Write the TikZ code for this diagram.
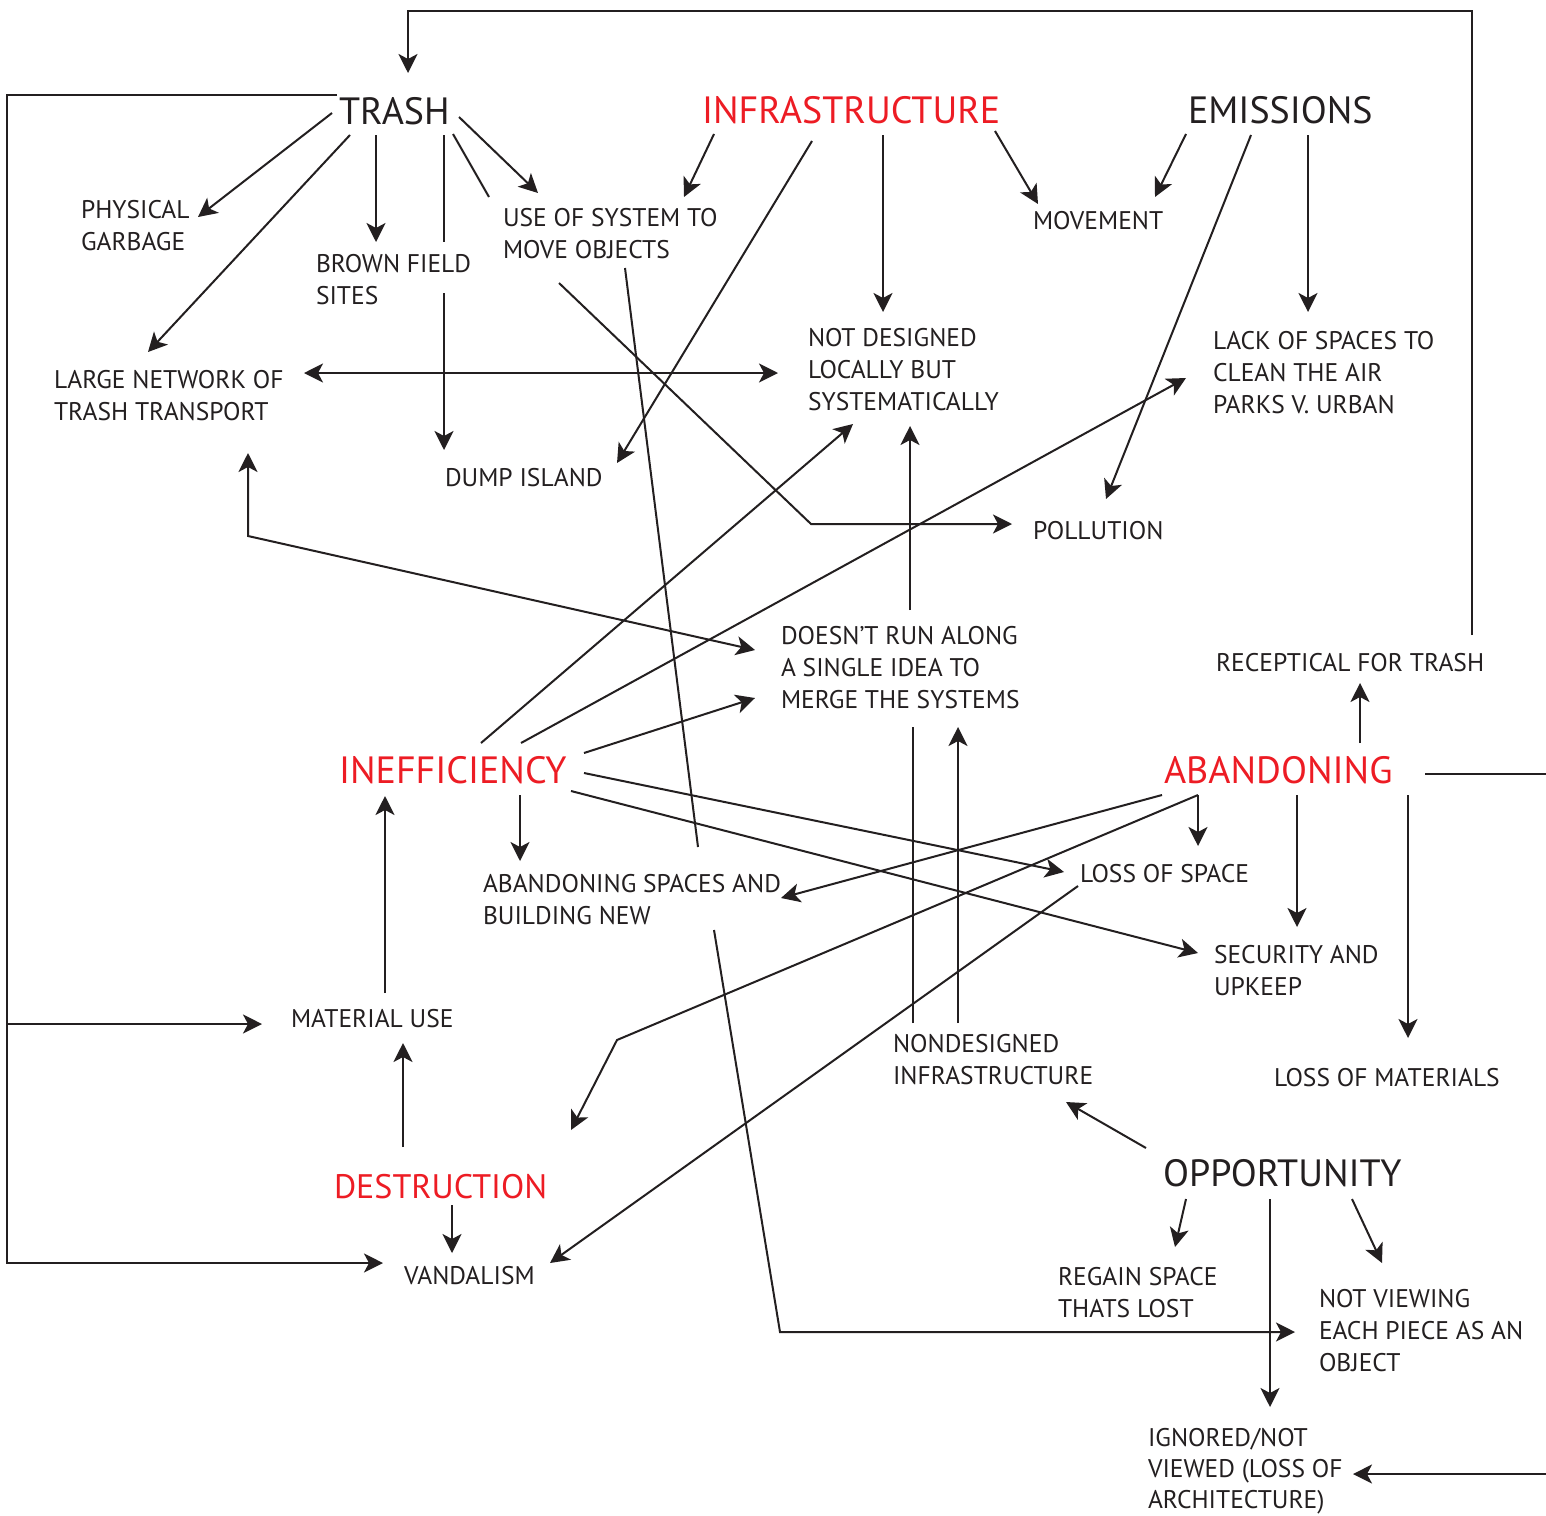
\documentclass[tikz,border=0pt]{standalone}
\usepackage{fontspec}
\setmainfont{PT Sans}
\usetikzlibrary{arrows.meta}
\definecolor{ink}{HTML}{231F20}
\definecolor{hot}{HTML}{ED1C24}
\newcommand{\smfont}{\fontsize{25.5}{32}\selectfont}
\newcommand{\tightfont}{\fontsize{25.5}{31}\selectfont}
\newcommand{\bgfont}{\fontsize{38}{44}\selectfont}
\newcommand{\dsfont}{\fontsize{34}{40}\selectfont}
\begin{document}
\begin{tikzpicture}[x=1pt, y=-1pt, line width=2pt, draw=ink,
  lbl/.style={anchor=north west, inner sep=0pt, align=left, text=ink, font=\smfont},
  big/.style={anchor=north west, inner sep=0pt, text=ink, font=\bgfont},
  hotbig/.style={big, text=hot},
  arr/.style={-{Stealth[length=19pt,width=19pt,inset=5pt]}},
  dbl/.style={{Stealth[length=19pt,width=19pt,inset=5pt]}-{Stealth[length=19pt,width=19pt,inset=5pt]}}]
\fill[white] (0,0) rectangle (1546,1515);
\useasboundingbox (0,0) rectangle (1546,1515);

% nodes
\node[big] (trash) at (338,96) {TRASH};
\node[hotbig] (infra) at (701,95) {INFRASTRUCTURE};
\node[big] (emis) at (1187,95) {EMISSIONS};
\node[lbl] (phys) at (80,199) {PHYSICAL\\GARBAGE};
\node[lbl] (brown) at (315,253) {BROWN FIELD\\SITES};
\node[lbl] (use) at (502,207) {USE OF SYSTEM TO\\MOVE OBJECTS};
\node[lbl] (move) at (1032,210) {MOVEMENT};
\node[lbl] (large) at (53,369) {LARGE NETWORK OF\\TRASH TRANSPORT};
\node[lbl] (notdes) at (807,327) {NOT DESIGNED\\LOCALLY BUT\\SYSTEMATICALLY};
\node[lbl] (lack) at (1212,330) {LACK OF SPACES TO\\CLEAN THE AIR\\PARKS V. URBAN};
\node[lbl] (dump) at (444,467) {DUMP ISLAND};
\node[lbl] (poll) at (1032,520) {POLLUTION};
\node[lbl] (doesnt) at (780,625) {DOESN’T RUN ALONG\\A SINGLE IDEA TO\\MERGE THE SYSTEMS};
\node[lbl] (recep) at (1215,652) {RECEPTICAL FOR TRASH};
\node[hotbig] (ineff) at (338,755) {INEFFICIENCY};
\node[hotbig] (aband) at (1163,755) {ABANDONING};
\node[lbl] (absp) at (482,873) {ABANDONING SPACES AND\\BUILDING NEW};
\node[lbl] (loss) at (1079,863) {LOSS OF SPACE};
\node[lbl] (sec) at (1213,944) {SECURITY AND\\UPKEEP};
\node[lbl] (mat) at (290,1008) {MATERIAL USE};
\node[lbl] (nond) at (892,1033) {NONDESIGNED\\INFRASTRUCTURE};
\node[lbl] (lossmat) at (1273,1067) {LOSS OF MATERIALS};
\node[big] (opp) at (1162,1158) {OPPORTUNITY};
\node[hotbig, font=\dsfont] (destr) at (333,1173) {DESTRUCTION};
\node[lbl] (vand) at (403,1265) {VANDALISM};
\node[lbl] (regain) at (1057,1266) {REGAIN SPACE\\THATS LOST};
\node[lbl] (notview) at (1318,1288) {NOT VIEWING\\EACH PIECE AS AN\\OBJECT};
\node[lbl, font=\tightfont] (ign) at (1147,1427) {IGNORED/NOT\\VIEWED (LOSS OF\\ARCHITECTURE)};

% loops
\draw[arr] ([shift={(257,-17)}]recep.north west) -- ++(0,-624) -- ++(-1064,0) -- ([shift={(70,-23)}]trash.north west);
\draw[arr] ([shift={(-1,-1)}]trash.north west) -- ++(-330,0) -- ++(0,929) coordinate (lb) -- ++(0,239) -- ([shift={(-20,-2)}]vand.north west);
\draw[arr] (lb) -- ([shift={(-28,16)}]mat.north west);

% trash
\draw[arr] ([shift={(-6,17)}]trash.north west) -- ([shift={(118,18)}]phys.north west);
\draw[arr] ([shift={(12,39)}]trash.north west) -- ([shift={(95,-17)}]large.north west);
\draw[arr] ([shift={(38,39)}]trash.north west) -- ([shift={(61,-11)}]brown.north west);
\draw[arr] ([shift={(106,39)}]trash.north west) -- ++(0,107) ++(0,51) -- ([shift={(0,-17)}]dump.north west);
\draw ([shift={(115,38)}]trash.north west) -- ([shift={(-13,-10)}]use.north west);
\draw[arr] ([shift={(121,21)}]trash.north west) -- ([shift={(36,-14)}]use.north west);

% infrastructure
\draw[arr] ([shift={(13,39)}]infra.north west) -- ([shift={(182,-10)}]use.north west);
\draw[arr] ([shift={(111,46)}]infra.north west) -- ([shift={(173,-4)}]dump.north west);
\draw[arr] ([shift={(182,40)}]infra.north west) -- ([shift={(76,-15)}]notdes.north west);
\draw[arr] ([shift={(294,36)}]infra.north west) -- ([shift={(6,-6)}]move.north west);

% emissions
\draw[arr] ([shift={(-1,39)}]emis.north west) -- ([shift={(123,-13)}]move.north west);
\draw[arr] ([shift={(64,40)}]emis.north west) -- ([shift={(74,-21)}]poll.north west);
\draw[arr] ([shift={(121,40)}]emis.north west) -- ([shift={(96,-18)}]lack.north west);

% middle
\draw[dbl] ([shift={(251,4)}]large.north west) -- ([shift={(-29,46)}]notdes.north west);
\draw[arr] ([shift={(57,76)}]use.north west) -- ++(252,241) -- ([shift={(-20,4)}]poll.north west);
\draw ([shift={(123,61)}]use.north west) -- ([shift={(216,-26)}]absp.north west);
\draw[arr] ([shift={(232,57)}]absp.north west) -- ++(66,402) -- ([shift={(-23,44)}]notview.north west);
\draw[arr] ([shift={(130,-15)}]doesnt.north west) -- ([shift={(103,99)}]notdes.north west);
\draw[dbl] ([shift={(195,84)}]large.north west) -- ++(0,83) -- ([shift={(-25,25)}]doesnt.north west);

% inefficiency
\draw[arr] ([shift={(143,-12)}]ineff.north west) -- ([shift={(46,97)}]notdes.north west);
\draw[arr] ([shift={(183,-12)}]ineff.north west) -- ([shift={(-26,48)}]lack.north west);
\draw[arr] ([shift={(246,-2)}]ineff.north west) -- ([shift={(-25,73)}]doesnt.north west);
\draw[arr] ([shift={(182,40)}]ineff.north west) -- ([shift={(38,-12)}]absp.north west);
\draw[arr] ([shift={(246,18)}]ineff.north west) -- ([shift={(-15,9)}]loss.north west);
\draw[arr] ([shift={(233,36)}]ineff.north west) -- ([shift={(-15,9)}]sec.north west);

% material use, destruction
\draw[arr] ([shift={(95,-15)}]mat.north west) -- ([shift={(47,41)}]ineff.north west);
\draw[arr] ([shift={(70,-26)}]destr.north west) -- ([shift={(113,35)}]mat.north west);
\draw[arr] ([shift={(119,32)}]destr.north west) -- ([shift={(49,-12)}]vand.north west);

% abandoning
\draw[arr] ([shift={(197,-12)}]aband.north west) -- ([shift={(145,31)}]recep.north west);
\draw[arr] ([shift={(-1,40)}]aband.north west) -- ([shift={(299,25)}]absp.north west);
\draw[arr] ([shift={(35,40)}]aband.north west) -- ([shift={(119,-17)}]loss.north west);
\draw[arr] ([shift={(35,40)}]aband.north west) -- ++(-581,245) -- ([shift={(238,-43)}]destr.north west);
\draw[arr] ([shift={(134,40)}]aband.north west) -- ([shift={(84,-17)}]sec.north west);
\draw[arr] ([shift={(245,40)}]aband.north west) -- ([shift={(135,-29)}]lossmat.north west);
\draw[arr] ([shift={(262,19)}]aband.north west) -- ++(124,0) -- ++(0,700) -- ([shift={(206,47)}]ign.north west);

% nondesigned, loss of space
\draw[arr] ([shift={(66,-10)}]nond.north west) -- ([shift={(178,102)}]doesnt.north west);
\draw ([shift={(21,-10)}]nond.north west) -- ([shift={(133,102)}]doesnt.north west);
\draw[arr] ([shift={(-1,23)}]loss.north west) -- ([shift={(147,-2)}]vand.north west);

% opportunity
\draw[arr] ([shift={(-16,-10)}]opp.north west) -- ([shift={(174,69)}]nond.north west);
\draw[arr] ([shift={(24,41)}]opp.north west) -- ([shift={(118,-19)}]regain.north west);
\draw[arr] ([shift={(108,41)}]opp.north west) -- ([shift={(123,-20)}]ign.north west);
\draw[arr] ([shift={(190,41)}]opp.north west) -- ([shift={(64,-25)}]notview.north west);
\end{tikzpicture}
\end{document}
